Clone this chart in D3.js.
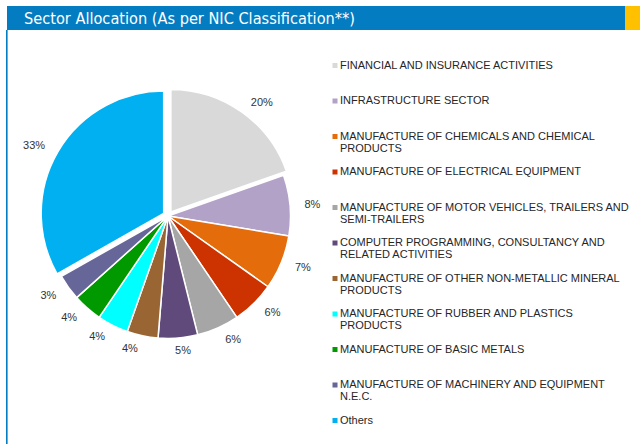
<!DOCTYPE html>
<html>
<head>
<meta charset="utf-8">
<script src="https://cdn.jsdelivr.net/npm/d3@7"></script>
<style>
  html, body { margin: 0; padding: 0; background: #ffffff; }
  svg { display: block; }
</style>
</head>
<body>
<svg id="chart" width="640" height="444"></svg>
<script>
// ---- data ----
const title = "Sector Allocation (As per NIC Classification**)";
const categories = [
  "FINANCIAL AND INSURANCE ACTIVITIES",
  "INFRASTRUCTURE SECTOR",
  "MANUFACTURE OF CHEMICALS AND CHEMICAL PRODUCTS",
  "MANUFACTURE OF ELECTRICAL EQUIPMENT",
  "MANUFACTURE OF MOTOR VEHICLES, TRAILERS AND SEMI-TRAILERS",
  "COMPUTER PROGRAMMING, CONSULTANCY AND RELATED ACTIVITIES",
  "MANUFACTURE OF OTHER NON-METALLIC MINERAL PRODUCTS",
  "MANUFACTURE OF RUBBER AND PLASTICS PRODUCTS",
  "MANUFACTURE OF BASIC METALS",
  "MANUFACTURE OF MACHINERY AND EQUIPMENT N.E.C.",
  "Others"
];
const values = [19.6, 8.0, 7.2, 5.7, 5.6, 5.2, 4.1, 4.1, 3.9, 3.4, 33.2];
const colors = ["#D9D9D9", "#B3A2C7", "#E46C0A", "#CC3300", "#A6A6A6", "#604A7B",
                "#996633", "#00FFFF", "#009900", "#666699", "#00B0F0"];
const exploded = [true, false, false, false, false, false, false, false, false, false, true];

// ---- layout ----
const svg = d3.select("#chart");
const W = 640, H = 444;
const blue = "#037CC2";

// header
svg.append("rect").attr("x", 7).attr("y", 6).attr("width", 618).attr("height", 24).attr("fill", blue);
svg.append("rect").attr("x", 625).attr("y", 6).attr("width", 15).attr("height", 24).attr("fill", "#FFC000");
svg.append("rect").attr("x", 6).attr("y", 30).attr("width", 1.6).attr("height", H - 30).attr("fill", blue);
svg.append("text")
  .attr("x", 24).attr("y", 24)
  .attr("fill", "#ffffff")
  .attr("textLength", 331)
  .attr("lengthAdjust", "spacingAndGlyphs")
  .style("font-family", "'DejaVu Sans Condensed', 'DejaVu Sans', sans-serif")
  .style("font-size", "15.5px")
  .text(title);

// pie
const cx = 168, cy = 216, R = 122.5, explode = 5, labelDist = 135;
const pie = d3.pie().sort(null).value(d => d.v).startAngle(0).endAngle(2 * Math.PI);
const data = categories.map((c, i) => ({ c, v: values[i], color: colors[i], ex: exploded[i] }));
const arcs = pie(data);
const arc = d3.arc().innerRadius(0).outerRadius(R);

const g = svg.append("g").attr("transform", `translate(${cx},${cy})`);
const slice = g.selectAll("g.slice").data(arcs).enter().append("g")
  .attr("class", "slice")
  .attr("transform", d => {
    if (!d.data.ex) return null;
    const a = (d.startAngle + d.endAngle) / 2;
    return `translate(${Math.sin(a) * explode},${-Math.cos(a) * explode})`;
  });
slice.append("path")
  .attr("d", arc)
  .attr("fill", d => d.data.color)
  .attr("stroke", "#ffffff")
  .attr("stroke-width", 1.5)
  .attr("stroke-linejoin", "round");

const total = d3.sum(values);
slice.append("text")
  .attr("text-anchor", "middle")
  .attr("dy", "0.35em")
  .attr("fill", "#333333")
  .style("font-family", "'Liberation Sans', Arial, sans-serif")
  .style("font-size", "11px")
  .text(d => Math.round(d.data.v / total * 100) + "%")
  .each(function (d) {
    const a = (d.startAngle + d.endAngle) / 2;
    const w = this.getComputedTextLength();
    const s = Math.sin(a);
    const push = Math.max(-1, Math.min(1, s * 5)) * (w / 2 + 2);
    const x = s * labelDist + push;
    const y = -Math.cos(a) * labelDist;
    d3.select(this).attr("x", x).attr("y", y);
  });

// legend
const legendY = d3.scalePoint().domain(categories).range([68.5, 423.5]);
const legendX = 340, maxW = 293;
const lg = svg.append("g")
  .style("font-family", "'Liberation Sans', Arial, sans-serif")
  .style("font-size", "11px");
const items = lg.selectAll("g.item").data(data).enter().append("g").attr("class", "item");
items.append("rect")
  .attr("x", 332.5).attr("y", d => legendY(d.c) - 5.5)
  .attr("width", 5).attr("height", 5)
  .attr("fill", d => d.color);
items.append("text")
  .attr("x", legendX).attr("y", d => legendY(d.c))
  .attr("fill", "#262626")
  .each(function (d) {
    const t = d3.select(this);
    const words = d.c.split(" ");
    let line = [];
    let ts = t.append("tspan").attr("x", legendX).attr("dy", 0);
    words.forEach(wd => {
      line.push(wd);
      ts.text(line.join(" "));
      if (ts.node().getComputedTextLength() > maxW && line.length > 1) {
        line.pop();
        ts.text(line.join(" "));
        line = [wd];
        ts = t.append("tspan").attr("x", legendX).attr("dy", 12.3).text(wd);
      }
    });
  });
</script>
</body>
</html>
